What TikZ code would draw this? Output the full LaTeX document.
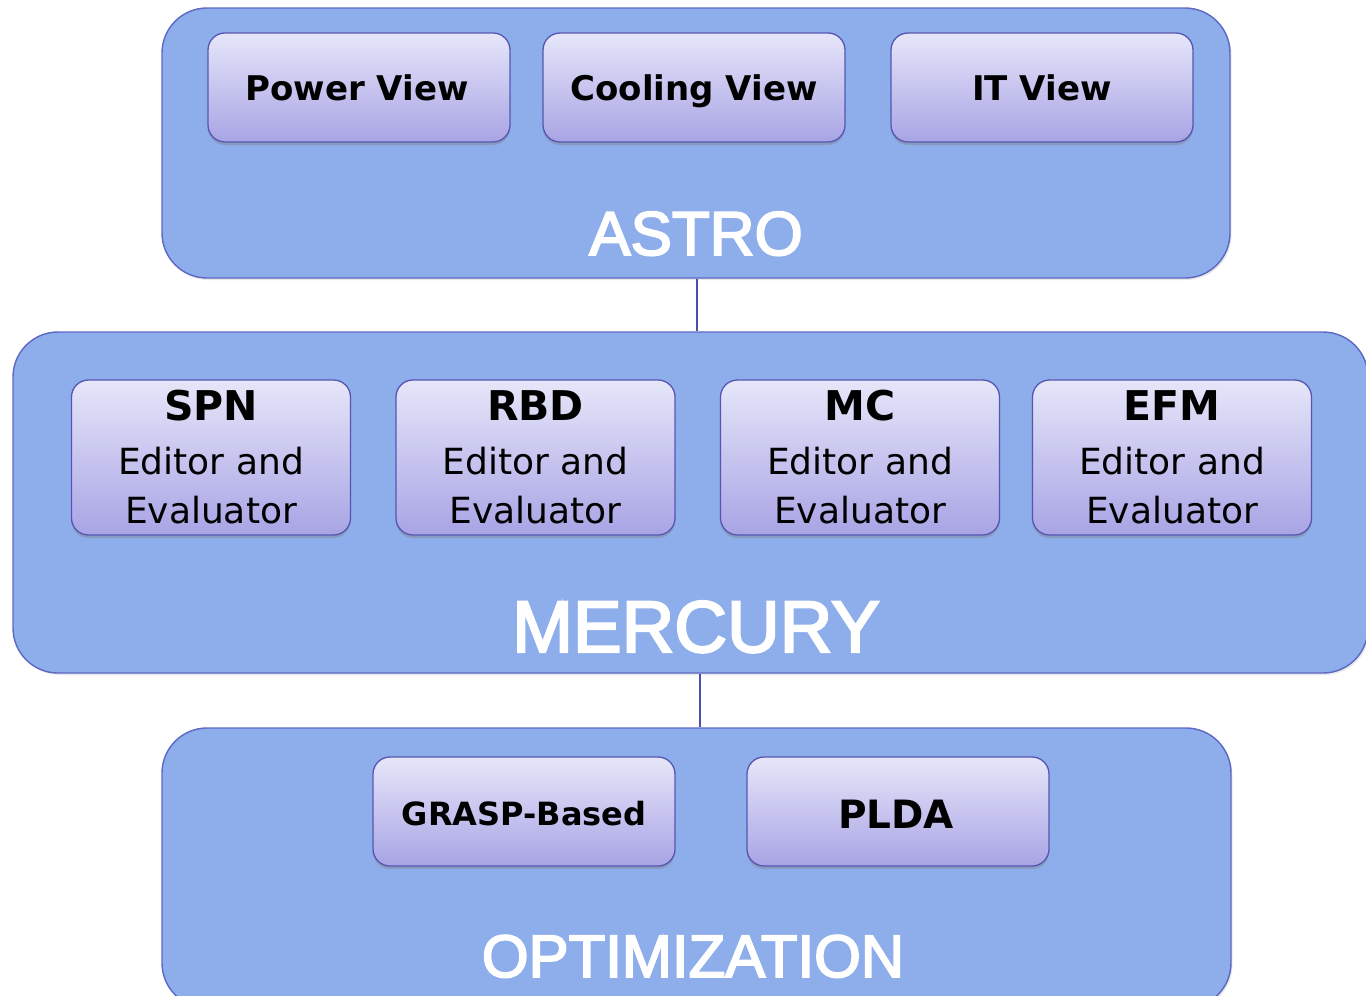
\documentclass[tikz,border=0pt]{standalone}
\usepackage{fontspec}
\setmainfont{DejaVu Sans}
\newfontfamily\labelfont[FakeBold=3]{Liberation Sans}
\usetikzlibrary{shadows}

\definecolor{layerfill}{RGB}{141,173,235}
\definecolor{layerline}{RGB}{92,104,196}
\definecolor{boxtop}{RGB}{230,230,249}
\definecolor{boxbottom}{RGB}{168,164,229}
\definecolor{boxline}{RGB}{86,86,178}
\definecolor{wireline}{RGB}{78,78,176}

\tikzset{
  layer/.style={draw=layerline, line width=1.4pt, fill=layerfill,
    rounded corners=45pt, inner sep=0pt,
    drop shadow={shadow xshift=1.5pt, shadow yshift=-2pt, opacity=.18}},
  module/.style={draw=boxline, line width=1.3pt, rounded corners=17pt,
    top color=boxtop, bottom color=boxbottom, inner sep=0pt,
    minimum width=302pt, minimum height=109pt,
    drop shadow={shadow xshift=0pt, shadow yshift=-3pt, opacity=.4}},
  modtitle/.style={font=\fontsize{34}{36}\selectfont\bfseries, text=black, inner sep=0pt},
  bigtitle/.style={font=\fontsize{39}{42}\selectfont\bfseries, text=black, inner sep=0pt},
  evtitle/.style={font=\fontsize{41}{44}\selectfont\bfseries, text=black, inner sep=0pt},
  evtext/.style={font=\fontsize{36}{40}\selectfont, text=black, inner sep=0pt},
  layertitle/.style={text=white, inner sep=0pt},
  wire/.style={draw=wireline, line width=1.4pt}
}

% one editor/evaluator module of the middle layer
\newcommand\evmodule[3]{%
  \node[module, minimum width=279pt, minimum height=155pt] (#1) at (#2,457.5) {};
  \node[evtitle, anchor=base] (#1-t) at (#2,420) {#3};
  \node[evtext, anchor=base] (#1-a) at (#2,474) {Editor and};
  \node[evtext, anchor=base] (#1-b) at (#2,523) {Evaluator};
}

\begin{document}
\begin{tikzpicture}[x=1pt, y=-1pt]
\useasboundingbox (0,0) rectangle (1366,996);
\clip (0,0) rectangle (1366,996);

% top layer
\node[layer, minimum width=1068pt, minimum height=270pt] (astro) at (696,143) {};
\node[module] (power) at (359,87.5) {};
\node[modtitle, anchor=base] (power-t) at (357,100.5) {Power View};
\node[module] (cooling) at (694,87.5) {};
\node[modtitle, anchor=base] (cooling-t) at (694,100.5) {Cooling View};
\node[module] (it) at (1042,87.5) {};
\node[modtitle, anchor=base] (it-t) at (1042,100.5) {IT View};
\node[layertitle, font=\labelfont\fontsize{62}{66}\selectfont, anchor=base] (astro-t) at (696,255) {ASTRO};

% middle layer
\node[layer, minimum width=1355pt, minimum height=341pt] (mercury) at (690.5,502.5) {};
\evmodule{spn}{211}{SPN}
\evmodule{rbd}{535.5}{RBD}
\evmodule{mc}{860}{MC}
\evmodule{efm}{1172}{EFM}
\node[layertitle, font=\labelfont\fontsize{73}{76}\selectfont, anchor=base] (mercury-t) at (696,652) {MERCURY};

% bottom layer
\node[layer, minimum width=1069pt, minimum height=280pt] (optim) at (696.5,868) {};
\node[module] (grasp) at (524,811.5) {};
\node[modtitle, font=\fontsize{32}{36}\selectfont\bfseries, anchor=base] (grasp-t) at (524,825) {GRASP-Based};
\node[module] (plda) at (898,811.5) {};
\node[bigtitle, anchor=base] (plda-t) at (896,828) {PLDA};
\node[layertitle, font=\labelfont\fontsize{60}{64}\selectfont, anchor=base] (optim-t) at (693,977) {OPTIMIZATION};

% links between the layers
\coordinate (link1) at (697,0);
\coordinate (link2) at (700,0);
\draw[wire] (astro.south -| link1) -- (mercury.north -| link1);
\draw[wire] (mercury.south -| link2) -- (optim.north -| link2);
\end{tikzpicture}
\end{document}
